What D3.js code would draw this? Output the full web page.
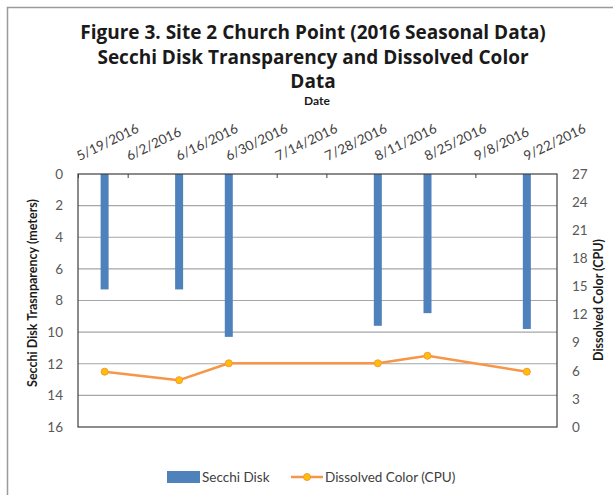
<!DOCTYPE html>
<html>
<head>
<meta charset="utf-8">
<script src="https://cdn.jsdelivr.net/npm/d3@7"></script>
<style>
  html, body { margin: 0; padding: 0; background: #fff; }
  svg { display: block; font-family: Lato, 'Open Sans', sans-serif; }
</style>
</head>
<body>
<div id="chart"></div>
<script>
const WIDTH = 613;
const HEIGHT = 495;

// axis tick labels (every 14 days)
const dateTicks = ['5/19/2016', '6/2/2016', '6/16/2016', '6/30/2016', '7/14/2016',
  '7/28/2016', '8/11/2016', '8/25/2016', '9/8/2016', '9/22/2016'];
const depthTicks = [0, 2, 4, 6, 8, 10, 12, 14, 16];
const colorTicks = [0, 3, 6, 9, 12, 15, 18, 21, 24, 27];

// sampling days and values
const sampleDates = ['5/26/2016', '6/16/2016', '6/30/2016', '8/11/2016', '8/25/2016', '9/22/2016'];
const secchiDepth = [7.3, 7.3, 10.3, 9.6, 8.8, 9.8];
const dissolvedColor = [5.9, 5.0, 6.8, 6.8, 7.6, 5.9];

const titleLines = [
  'Figure 3. Site 2 Church Point (2016 Seasonal Data)',
  'Secchi Disk Transparency and Dissolved Color',
  'Data'
];

const BAR_BLUE = '#4f81bd';
const LINE_ORANGE = '#f79646';
const MARKER_FILL = '#ffc000';

const parseDate = d3.timeParse('%m/%d/%Y');
const formatDate = d3.timeFormat('%-m/%-d/%Y');

function translate(x, y) {
  return `translate(${x}, ${y})`;
}

const data = sampleDates.map((d, i) => ({
  date: d3.timeHour.offset(parseDate(d), 12),
  depth: secchiDepth[i],
  color: dissolvedColor[i]
}));

const svg = d3.select('#chart').append('svg')
  .attr('width', WIDTH)
  .attr('height', HEIGHT);

// outer frame (runs off right/bottom edge)
svg.append('rect')
  .attr('x', 7.5).attr('y', 7.5)
  .attr('width', WIDTH + 20).attr('height', HEIGHT + 20)
  .attr('fill', 'none')
  .attr('stroke', '#9a9a9a')
  .attr('stroke-width', 1.5);

const margin = {top: 174, right: 56, bottom: 68, left: 78};
const width = WIDTH - margin.left - margin.right;
const height = HEIGHT - margin.top - margin.bottom;

const g = svg.append('g').attr('transform', translate(margin.left, margin.top));

const x = d3.scaleTime()
  .domain([parseDate('5/19/2016'), parseDate('10/1/2016')])
  .range([0, width]);

const yDepth = d3.scaleLinear().domain([0, 16]).range([0, height]);
const yColor = d3.scaleLinear().domain([0, 27]).range([height, 0]);

// title
svg.append('text')
  .attr('x', 313)
  .attr('text-anchor', 'middle')
  .attr('font-family', "'Open Sans', sans-serif")
  .attr('font-weight', 'bold')
  .attr('font-size', 19)
  .attr('fill', '#1a1a1a')
  .selectAll('tspan')
  .data(titleLines)
  .join('tspan')
    .attr('x', 313)
    .attr('y', (d, i) => 39 + i * 24.5)
    .text(d => d);

svg.append('text')
  .attr('x', 317).attr('y', 105)
  .attr('text-anchor', 'middle')
  .attr('font-weight', 'bold')
  .attr('font-size', 12)
  .attr('fill', '#1a1a1a')
  .text('Date');

// gridlines
g.append('g')
  .selectAll('line')
  .data(depthTicks.slice(1, -1))
  .join('line')
    .attr('x1', 0).attr('x2', width)
    .attr('y1', d => yDepth(d)).attr('y2', d => yDepth(d))
    .attr('stroke', '#a6a6a6')
    .attr('stroke-width', 1.2);

// left axis
const yAxisLeft = g.append('g')
  .call(d3.axisLeft(yDepth).tickValues(depthTicks).tickSize(0).tickPadding(15));
yAxisLeft.select('.domain').remove();
yAxisLeft.selectAll('text')
  .attr('font-family', 'Lato, sans-serif')
  .attr('font-size', 13.5)
  .attr('fill', '#595959');

// right axis
const yAxisRight = g.append('g')
  .attr('transform', translate(width, 0))
  .call(d3.axisRight(yColor).tickValues(colorTicks).tickSize(0).tickPadding(15));
yAxisRight.select('.domain').remove();
yAxisRight.selectAll('text')
  .attr('font-family', 'Lato, sans-serif')
  .attr('font-size', 13.5)
  .attr('fill', '#595959');

// top date axis
const xAxis = g.append('g')
  .call(d3.axisTop(x).tickValues(dateTicks.map(parseDate)).tickFormat(formatDate).tickSizeInner(-4).tickSizeOuter(0));
xAxis.select('.domain').remove();
xAxis.selectAll('.tick line')
  .attr('stroke', '#404040');
xAxis.selectAll('text')
  .attr('font-family', 'Lato, sans-serif')
  .attr('font-size', 13.5)
  .attr('fill', '#404040')
  .attr('text-anchor', 'start')
  .attr('y', 0)
  .attr('dy', 0)
  .attr('transform', 'translate(1, -13) rotate(-26)');

// bars
const BAR_W = 8;
g.append('g')
  .selectAll('rect')
  .data(data)
  .join('rect')
    .attr('x', d => x(d.date) - BAR_W / 2)
    .attr('y', yDepth(0))
    .attr('width', BAR_W)
    .attr('height', d => yDepth(d.depth) - yDepth(0))
    .attr('fill', BAR_BLUE);

// plot frame
g.append('rect')
  .attr('width', width).attr('height', height)
  .attr('fill', 'none')
  .attr('stroke', '#404040')
  .attr('stroke-width', 1.2);

// dissolved colour line
const line = d3.line()
  .x(d => x(d.date))
  .y(d => yColor(d.color));

g.append('path')
  .datum(data)
  .attr('fill', 'none')
  .attr('stroke', LINE_ORANGE)
  .attr('stroke-width', 2.5)
  .attr('stroke-linejoin', 'round')
  .attr('d', line);

g.append('g')
  .selectAll('circle')
  .data(data)
  .join('circle')
    .attr('cx', d => x(d.date))
    .attr('cy', d => yColor(d.color))
    .attr('r', 3.5)
    .attr('fill', MARKER_FILL)
    .attr('stroke', LINE_ORANGE)
    .attr('stroke-width', 1);

// axis titles
svg.append('text')
  .attr('transform', translate(37, 293) + ' rotate(-90)')
  .attr('text-anchor', 'middle')
  .attr('font-weight', 'bold')
  .attr('font-size', 12.5)
  .attr('fill', '#1a1a1a')
  .text('Secchi Disk Trasnparency (meters)');

svg.append('text')
  .attr('transform', translate(603, 300) + ' rotate(-90)')
  .attr('text-anchor', 'middle')
  .attr('font-weight', 'bold')
  .attr('font-size', 12.5)
  .attr('fill', '#1a1a1a')
  .text('Dissolved Color (CPU)');

// legend
const legend = svg.append('g').attr('transform', translate(167, 477));

legend.append('rect')
  .attr('x', 0).attr('y', -6)
  .attr('width', 33).attr('height', 12)
  .attr('fill', BAR_BLUE);

legend.append('text')
  .attr('x', 35).attr('y', 5)
  .attr('font-size', 13.5)
  .attr('fill', '#404040')
  .text('Secchi Disk');

legend.append('line')
  .attr('x1', 124).attr('x2', 156)
  .attr('stroke', LINE_ORANGE)
  .attr('stroke-width', 2.5);

legend.append('circle')
  .attr('cx', 140).attr('r', 3.5)
  .attr('fill', MARKER_FILL)
  .attr('stroke', LINE_ORANGE);

legend.append('text')
  .attr('x', 158).attr('y', 5)
  .attr('font-size', 13.5)
  .attr('fill', '#404040')
  .text('Dissolved Color (CPU)');
</script>
</body>
</html>
